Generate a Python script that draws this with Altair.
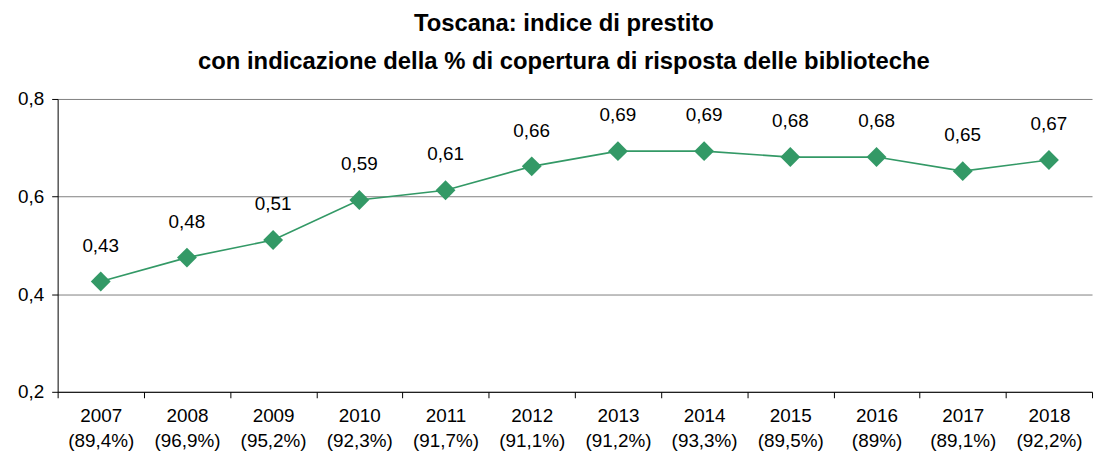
import altair as alt
import pandas as pd

years = ["2007", "2008", "2009", "2010", "2011", "2012", "2013", "2014", "2015", "2016", "2017", "2018"]
coverage = ["89,4%", "96,9%", "95,2%", "92,3%", "91,7%", "91,1%", "91,2%", "93,3%", "89,5%", "89%", "89,1%", "92,2%"]
values = [0.426, 0.475, 0.511, 0.593, 0.613, 0.662, 0.693, 0.693, 0.681, 0.681, 0.652, 0.675]
labels = ["0,43", "0,48", "0,51", "0,59", "0,61", "0,66", "0,69", "0,69", "0,68", "0,68", "0,65", "0,67"]

df = pd.DataFrame({
    "cat": [f"{y}\n({c})" for y, c in zip(years, coverage)],
    "value": values,
    "label": labels,
})

green = "#339966"
FONT = "Liberation Sans"

x = alt.X("cat:N", sort=None, title=None,
          scale=alt.Scale(paddingInner=0, paddingOuter=0),
          axis=alt.Axis(labelAngle=0, labelExpr="split(datum.label, '\\n')",
                        labelFontSize=19, labelColor="#000", labelLineHeight=25,
                        labelFont=FONT, tickBand="extent", tickSize=6,
                        tickColor="#000", domainColor="#000", labelPadding=9,
                        grid=False))
y = alt.Y("value:Q", title=None,
          scale=alt.Scale(domain=[0.2, 0.8], nice=False, zero=False),
          axis=alt.Axis(values=[0.2, 0.4, 0.6, 0.8],
                        labelExpr="replace(format(datum.value, '.1f'), '.', ',')",
                        labelFontSize=19, labelColor="#000", labelFont=FONT,
                        tickSize=6, tickColor="#000", domainColor="#000",
                        labelPadding=8, grid=True, gridColor="#808080",
                        gridWidth=1))

base = alt.Chart(df)
line = base.mark_line(color=green, strokeWidth=1.7).encode(x=x, y=y)
pts = base.mark_point(shape="diamond", filled=True, size=400, color=green, opacity=1).encode(x=x, y=y)
txt = base.mark_text(dy=-36, fontSize=19, font=FONT, color="#000", baseline="middle").encode(
    x=x, y=y, text="label:N")

chart = alt.layer(line, pts, txt).properties(
    width=1042, height=295,
    autosize=alt.AutoSizeParams(type="none"),
    padding={"left": 50, "top": 90, "right": 4, "bottom": 58},
    title=alt.TitleParams(
        ["Toscana: indice di prestito",
         "con indicazione della % di copertura di risposta delle biblioteche"],
        fontSize=24, fontWeight="bold", font=FONT, color="#000",
        lineHeight=38, anchor="middle", offset=16, dx=-11),
).configure_view(stroke=None)

chart.save("out.html", embed_options={"renderer": "svg", "actions": False})
